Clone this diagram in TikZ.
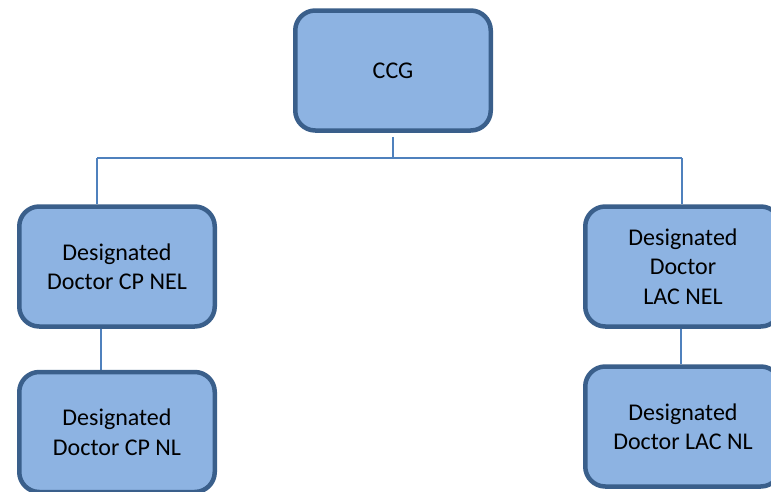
\documentclass[tikz,border=0pt]{standalone}
\usepackage{fontspec}
\setmainfont{Carlito}
\usetikzlibrary{backgrounds}
\definecolor{boxfill}{HTML}{8DB3E2}
\definecolor{boxedge}{HTML}{3A5F8B}
\definecolor{linkcol}{HTML}{4F81BD}
\tikzset{
  orgbox/.style={rectangle, rounded corners=20pt, draw=boxedge, fill=boxfill,
    line width=4.5pt, minimum width=195.5pt, minimum height=120pt,
    align=center, text=black, font=\fontsize{24}{29.5}\selectfont, inner sep=0pt},
  link/.style={draw=linkcol, line width=1.8pt}
}
\begin{document}
\begin{tikzpicture}[x=1pt,y=-1pt]
\useasboundingbox (0,0) rectangle (771,491);
\node[orgbox] (ccg) at (393,70.5) {CCG};
\node[orgbox] (l1) at (117,266.5) {Designated\\Doctor CP NEL};
\node[orgbox] (l2) at (117,432) {Designated\\Doctor CP NL};
\node[orgbox] (r1) at (683,266.5) {Designated\\Doctor\\LAC NEL};
\node[orgbox] (r2) at (683,426.5) {Designated\\Doctor LAC NL};
\coordinate (bl) at (97,158);
\coordinate (br) at (682,158);
\coordinate (lc) at (101,300);
\coordinate (rc) at (681,300);
\begin{scope}[on background layer]
\draw[link] ([yshift=-4pt]ccg.south) -- (ccg.south |- bl);
\draw[link] (bl) -- (br);
\draw[link] (bl) -- (bl |- l1.north);
\draw[link] (br) -- (br |- r1.north);
\draw[link] (lc |- l1.south) -- (lc |- l2.north);
\draw[link] (rc |- r1.south) -- (rc |- r2.north);
\end{scope}
\end{tikzpicture}
\end{document}
